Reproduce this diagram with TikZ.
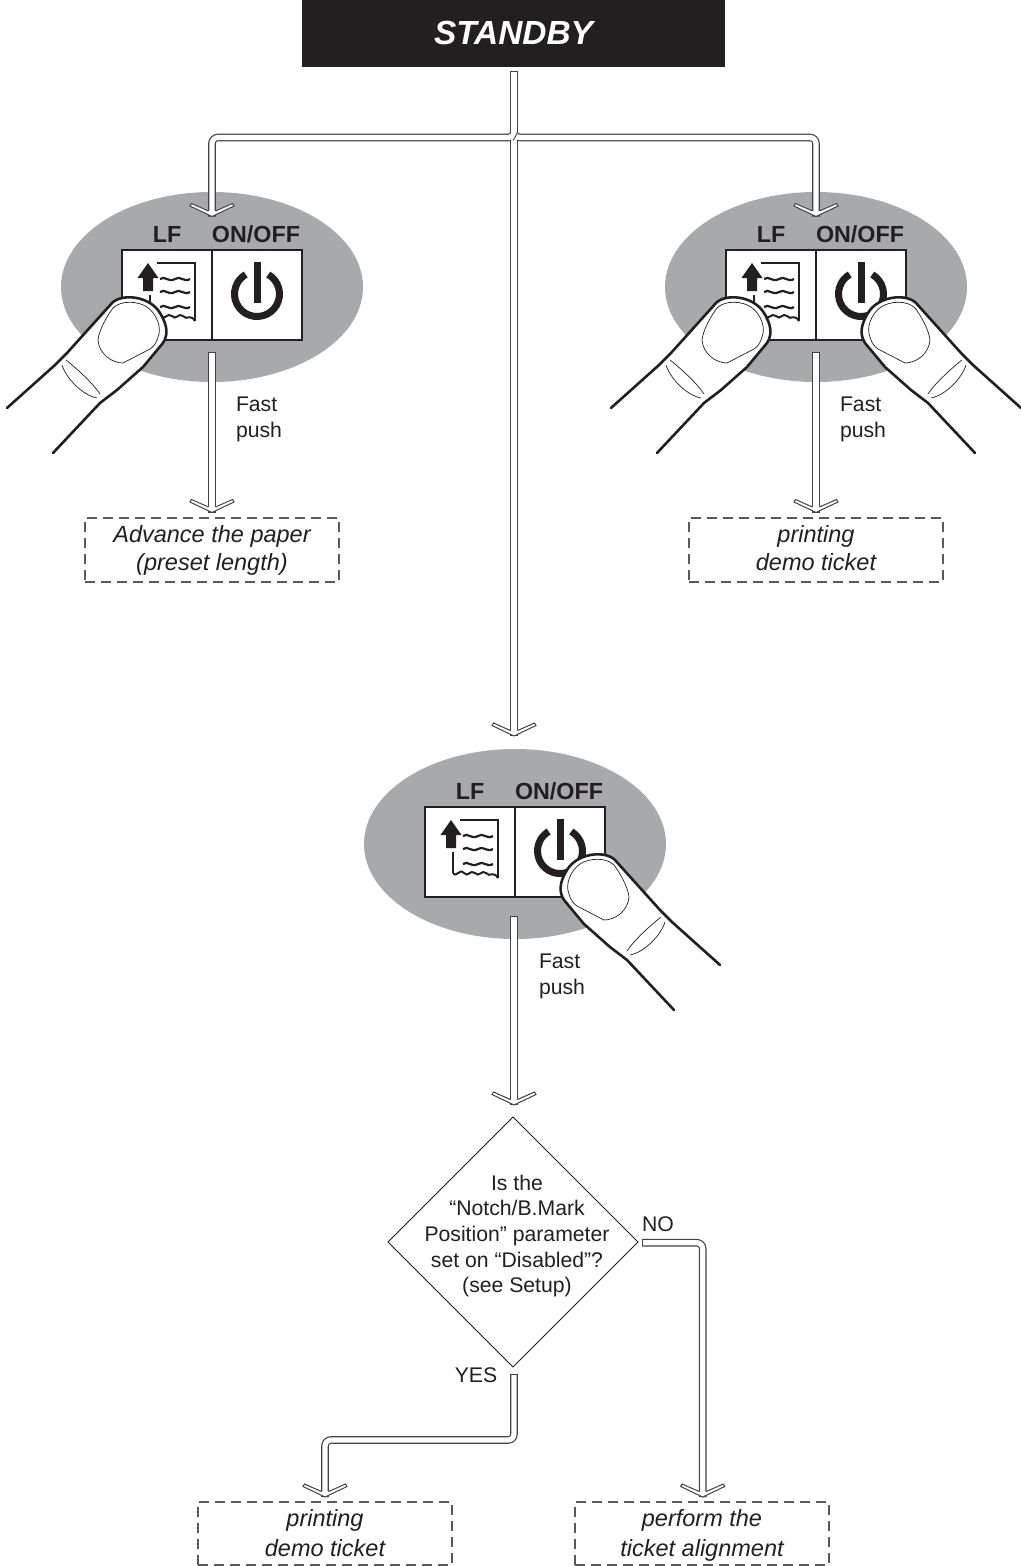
\documentclass[tikz,border=0pt]{standalone}
\usepackage{fontspec}
\setmainfont{Liberation Sans}
\usetikzlibrary{shapes.geometric}
\definecolor{ink}{HTML}{231F20}
\definecolor{oval}{HTML}{A7A9AC}
\definecolor{dashc}{HTML}{58595B}
\newcommand{\nstrut}{\rule[-8pt]{0pt}{28pt}}
\newcommand{\bstrut}{\rule[-6.5pt]{0pt}{28pt}}
\tikzset{
  x=1pt,y=-1pt,
  every node/.style={text=ink,inner sep=0pt,outer sep=0pt},
  pipeouter/.style={draw=ink!85,line width=7.6pt,rounded corners=6pt},
  pipeinner/.style={draw=white,line width=5.2pt,rounded corners=6pt,shorten <=1.2pt,shorten >=1.2pt},
  bodytext/.style={font=\fontsize{21.2}{25.7}\selectfont,align=center},
  noteitalic/.style={font=\fontsize{23.5}{28}\selectfont\itshape,align=center},
  notebox/.style={draw=dashc,line width=1.1pt,dash pattern=on 10pt off 6pt,minimum width=254pt,minimum height=64pt,noteitalic},
  btnlabel/.style={font=\fontsize{23.3}{26}\selectfont\bfseries},
  btnbox/.style={draw=ink,line width=1.6pt,fill=white,minimum width=90pt,minimum height=90pt},
  chev/.pic={\fill[white] (0,0)--(-22,-10.5)--(-20.5,-13)--(-3.6,-5.5)--(3.6,-5.5)--(20.5,-13)--(22,-10.5)--cycle;
     \draw[draw=ink!85,line width=1pt,line join=miter]
     (-3.6,-5.5)--(-20.5,-13)--(-22,-10.5)--(0,0)--(22,-10.5)--(20.5,-13)--(3.6,-5.5);},
}
\newcommand{\pipepath}[1]{\draw[pipeouter] #1;}
\newcommand{\pipefill}[1]{\draw[pipeinner] #1;}
% panel: name, x of divider, y of centre
\newcommand{\panel}[3]{%
  \node[ellipse,fill=oval,minimum width=302pt,minimum height=190pt] (#1) at (#2,#3) {};
  \node[btnbox,anchor=east] (#1lfbox) at (#2,#3+8) {};
  \node[btnbox,anchor=west] (#1pwbox) at (#2,#3+8) {};
  \node[btnlabel] (#1lf) at (#2-45,#3-53) {LF};
  \node[btnlabel] (#1pw) at (#2+44,#3-53) {ON/OFF};
  \begin{scope}[shift={(#2,#3)}]
    % paper icon
    \fill[ink] (-64,-24)--(-53.5,-9)--(-59,-9)--(-59,4)--(-69,4)--(-69,-9)--(-74.5,-9)--cycle;
    \draw[ink,line width=2pt] (-55,-24)--(-17,-24)--(-17,34);
    \draw[ink,line width=2pt] (-62,8)--(-62,29);
    \draw[ink,line width=2pt] (-62,29) .. controls (-58,34) and (-56,24) .. (-51,29) .. controls (-47,34) and (-45,25) .. (-40,29) .. controls (-36,34) and (-33,25) .. (-29,29) .. controls (-25,34) and (-22,26) .. (-17,34);
    \foreach \yy in {-8,5,20}{
      \draw[ink,line width=2.2pt] (-52,\yy) .. controls (-47,\yy-4) and (-44,\yy+4) .. (-37,\yy) .. controls (-32,\yy-4) and (-28,\yy+4) .. (-22,\yy);
    }
    % power icon
    \draw[ink,line width=7pt] (45,7)++(-60:22.5) arc[start angle=-60,end angle=240,x radius=22.5,y radius=22.5];
    \draw[ink,line width=7pt] (45,-25)--(45,16);
  \end{scope}
}
% finger: x of divider, y of centre, mirror (+1 left hand, -1 right hand)
\newcommand{\finger}[3]{%
  \begin{scope}[shift={(#1,#2)},xscale=#3]
  \begin{scope}[shift={(-212,-287)}]
    \draw[ink,line width=2.6pt,line cap=round,line join=round,fill=white]
      (7,408)--(55,365)--(67,353)--(112,303)
      .. controls (122,293) and (150,296) .. (160,313)
      .. controls (168,326) and (168,335) .. (163,343)
      --(143,367)--(117,390)--(100,403)--(53,453);
    \draw[ink,line width=.7pt,line join=round] (98,340) .. controls (99,330) and (107,316) .. (113,308) .. controls (121,300) and (138,301) .. (147,307) .. controls (157,314) and (162,328) .. (158,337) .. controls (156,344) and (153,347) .. (150,349) -- (123,363) .. controls (112,363) and (99,354) .. (98,340) -- cycle;
    \draw[ink,line width=.7pt] (62,365) .. controls (66,378) and (82,395) .. (97,398);
    \draw[ink,line width=.7pt] (66,360) .. controls (76,368) and (92,382) .. (100,394);
  \end{scope}
  \end{scope}
}
\begin{document}
\begin{tikzpicture}
\useasboundingbox (0,0) rectangle (1020,1566);
\fill[white] (0,0) rectangle (1020,1566);

\node[fill=ink,minimum width=423pt,minimum height=67pt,anchor=north west,text=white,font=\fontsize{33.4}{36}\selectfont\bfseries\itshape] (standby) at (302,0) {STANDBY};

\panel{pa}{212}{287}
\panel{pb}{816}{287}
\panel{pc}{515}{844}

\node[bodytext,align=left,anchor=north west] (fa) at (236,397) {Fast\\push};
\node[bodytext,align=left,anchor=north west] (fb) at (840,397) {Fast\\push};
\node[bodytext,align=left,anchor=north west] (fc) at (539,954) {Fast\\push};

\node[notebox] (na) at (212,550) {\nstrut Advance the paper\\\nstrut(preset length)};
\node[notebox] (nb) at (816,550) {\nstrut printing\\\nstrut demo ticket};
\node[notebox,minimum height=63pt] (nc) at (325,1533.5) {\rule[-7pt]{0pt}{28.5pt}printing\\\rule[-6pt]{0pt}{28pt}demo ticket};
\node[notebox,minimum height=63pt] (nd) at (702,1533.5) {\rule[-7pt]{0pt}{28.5pt}perform the\\\rule[-6pt]{0pt}{28pt}ticket alignment};

\node[diamond,draw=ink,line width=.9pt,minimum width=250pt,minimum height=250pt] (dec) at (513,1242) {};
\node[bodytext] (dectext) at (517,1236) {Is the\\“Notch/B.Mark\\Position” parameter\\set on “Disabled”?\\(see Setup)};
\node[bodytext] (no) at (658,1224) {NO};
\node[bodytext] (yes) at (476,1375) {YES};

% free ends of the connectors
\coordinate (top) at (514,71);
\coordinate (junc) at (514,137.5);
\coordinate (cl) at (212,137.5);
\coordinate (cr) at (816,137.5);
\coordinate (ta) at (212,216.5);
\coordinate (tb) at (816,216.5);
\coordinate (tc) at (514,736);
\coordinate (sa) at (212,352);
\coordinate (sb) at (816,352);
\coordinate (sc) at (514,916);
\coordinate (ea) at (212,512.5);
\coordinate (eb) at (816,512.5);
\coordinate (ec) at (514,1105);
\coordinate (ysta) at (514,1374);
\coordinate (yc1) at (514,1440);
\coordinate (yc2) at (325,1440);
\coordinate (ye) at (325,1497);
\coordinate (nsta) at (642,1242.7);
\coordinate (nc1) at (702.7,1242.7);
\coordinate (ne) at (702.7,1497);

% connectors
\foreach \p in {{(top)--(junc)--(cl)--(ta)},{(top)--(junc)--(cr)--(tb)},{(top)--(tc)},{(sa)--(ea)},{(sb)--(eb)},{(sc)--(ec)},{(ysta)--(yc1)--(yc2)--(ye)},{(nsta)--(nc1)--(ne)}}{
  \expandafter\pipepath\expandafter{\p}
}
\foreach \p in {{(top)--(junc)--(cl)--(ta)},{(top)--(junc)--(cr)--(tb)},{(top)--(tc)},{(sa)--(ea)},{(sb)--(eb)},{(sc)--(ec)},{(ysta)--(yc1)--(yc2)--(ye)},{(nsta)--(nc1)--(ne)}}{
  \expandafter\pipefill\expandafter{\p}
}
\draw[ink!85,line width=.9pt] ([shift={(3.2,-5)}]junc) .. controls ([shift={(3,-2)}]junc) and ([shift={(0,0)}]junc) .. ([shift={(-1,3)}]junc);
\foreach \t in {ta,tb,tc,ea,eb,ec,ye,ne}{\pic at (\t) {chev};}

\finger{212}{287}{1}
\finger{816}{287}{1}
\finger{816}{287}{-1}
\finger{515}{844}{-1}
\end{tikzpicture}
\end{document}
